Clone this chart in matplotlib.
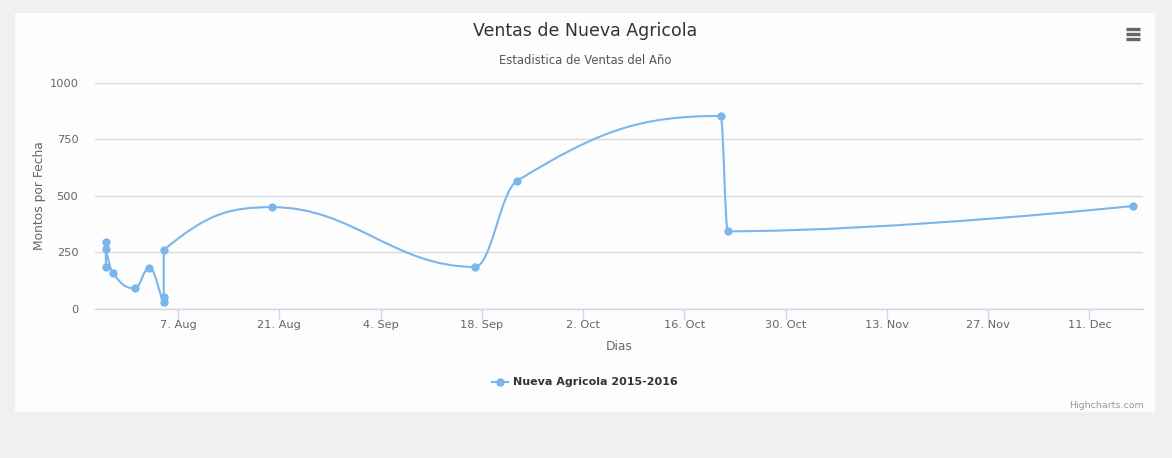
import pandas as pd
import matplotlib
matplotlib.use('Agg')
import matplotlib.pyplot as plt
import matplotlib.dates as mdates
from matplotlib.path import Path
from matplotlib.patches import PathPatch, Rectangle
from matplotlib.lines import Line2D

# Data (Highcharts spline, datetime axis)
fechas = ['2016-07-28 00:00', '2016-07-28 00:00', '2016-07-28 00:00', '2016-07-29 00:00',
          '2016-08-01 00:00', '2016-08-03 00:00', '2016-08-05 00:00', '2016-08-05 00:00',
          '2016-08-05 00:00', '2016-08-20 00:00', '2016-09-17 00:00', '2016-09-22 20:00',
          '2016-10-21 00:00', '2016-10-22 00:00', '2016-12-17 00:00']
montos = [183, 297, 264, 157, 90, 182, 28, 50, 260, 450, 185, 566, 854, 343, 455]

tick_fechas = ['2016-08-07', '2016-08-21', '2016-09-04', '2016-09-18', '2016-10-02',
               '2016-10-16', '2016-10-30', '2016-11-13', '2016-11-27', '2016-12-11']
tick_labels = ['7. Aug', '21. Aug', '4. Sep', '18. Sep', '2. Oct',
               '16. Oct', '30. Oct', '13. Nov', '27. Nov', '11. Dec']
y_ticks = [0, 250, 500, 750, 1000]

W, H = 1172, 458
LINE = '#7cb5ec'


def fx(px):
    return px / W


def fy(py):
    return 1 - py / H


def hc_spline(xs, ys, smoothing=1.5):
    # same control point rule as Highcharts' spline series
    n = len(xs)
    denom = smoothing + 1
    lc = [(x, y) for x, y in zip(xs, ys)]
    rc = [(x, y) for x, y in zip(xs, ys)]
    for i in range(1, n - 1):
        px, py = xs[i], ys[i]
        lx, ly = xs[i - 1], ys[i - 1]
        nx, ny = xs[i + 1], ys[i + 1]
        lcx = (smoothing * px + lx) / denom
        lcy = (smoothing * py + ly) / denom
        rcx = (smoothing * px + nx) / denom
        rcy = (smoothing * py + ny) / denom
        if rcx != lcx:
            corr = ((rcy - lcy) * (rcx - px)) / (rcx - lcx) + py - rcy
            lcy += corr
            rcy += corr
        if lcy > ly and lcy > py:
            lcy = max(ly, py)
            rcy = 2 * py - lcy
        elif lcy < ly and lcy < py:
            lcy = min(ly, py)
            rcy = 2 * py - lcy
        if rcy > ny and rcy > py:
            rcy = max(ny, py)
            lcy = 2 * py - rcy
        elif rcy < ny and rcy < py:
            rcy = min(ny, py)
            lcy = 2 * py - rcy
        lc[i] = (lcx, lcy)
        rc[i] = (rcx, rcy)
    verts = [(xs[0], ys[0])]
    codes = [Path.MOVETO]
    for i in range(1, n):
        verts += [rc[i - 1], lc[i], (xs[i], ys[i])]
        codes += [Path.CURVE4] * 3
    return Path(verts, codes)


x = list(mdates.date2num(pd.to_datetime(fechas, format='%Y-%m-%d %H:%M')))
xt = mdates.date2num(pd.to_datetime(tick_fechas, format='%Y-%m-%d'))

fig = plt.figure(figsize=(W / 100, H / 100), dpi=100)
fig.patch.set_facecolor('#f0f0f0')
fig.add_artist(Rectangle((fx(15), fy(412)), fx(1155) - fx(15), fy(13) - fy(412),
                         transform=fig.transFigure, facecolor='#fdfdfd', edgecolor='none', zorder=0))

ax = fig.add_axes([fx(95), fy(308.7), fx(1143) - fx(95), fy(83) - fy(308.7)])
ax.set_facecolor('none')

ax.add_patch(PathPatch(hc_spline(x, montos), facecolor='none', edgecolor=LINE,
                       linewidth=1.5, zorder=3, capstyle='round', joinstyle='round'))
ax.plot(x, montos, linestyle='none', marker='o', markersize=6, color=LINE,
        markeredgewidth=0, zorder=4)

x0 = mdates.date2num(pd.Timestamp('2016-08-07'))
ax.set_xlim(x0 - 11.5, x0 + 133.4)
ax.set_ylim(0, 1000)

ax.set_yticks(y_ticks)
ax.set_yticklabels([str(v) for v in y_ticks])
ax.set_xticks(xt)
ax.set_xticklabels(tick_labels)
ax.grid(axis='y', color='#dadada', linewidth=1)
ax.set_axisbelow(True)
for s in ['top', 'right', 'left']:
    ax.spines[s].set_visible(False)
ax.spines['bottom'].set_color('#ccd6eb')
ax.spines['bottom'].set_linewidth(1)
ax.tick_params(axis='y', length=0, pad=12, labelsize=8.2, labelcolor='#666666')
ax.tick_params(axis='x', length=7.2, width=1, color='#ccd6eb', pad=1,
               labelsize=8.2, labelcolor='#666666')

fig.text(fx(585), fy(31), 'Ventas de Nueva Agricola', ha='center', va='center',
         fontsize=12.5, color='#333333')
fig.text(fx(585), fy(61), 'Estadistica de Ventas del Año', ha='center', va='center',
         fontsize=8.4, color='#555555')
fig.text(fx(619), fy(347), 'Dias', ha='center', va='center', fontsize=8.8, color='#666666')
fig.text(fx(40), fy(196), 'Montos por Fecha', ha='center', va='center', rotation=90,
         fontsize=8.8, color='#666666')

# legend
fig.add_artist(Line2D([fx(492), fx(508)], [fy(382), fy(382)], transform=fig.transFigure,
                      color=LINE, linewidth=1.5))
fig.add_artist(Line2D([fx(500)], [fy(382)], transform=fig.transFigure, color=LINE,
                      marker='o', markersize=6, markeredgewidth=0))
fig.text(fx(513), fy(382), 'Nueva Agricola 2015-2016', ha='left', va='center',
         fontsize=8.0, fontweight='bold', color='#333333')

fig.text(fx(1144), fy(405), 'Highcharts.com', ha='right', va='center',
         fontsize=6.8, color='#999999')

# menu icon
for yy in [29, 34, 39]:
    fig.add_artist(Line2D([fx(1126), fx(1140)], [fy(yy), fy(yy)], transform=fig.transFigure,
                          color='#666666', linewidth=2.4, solid_capstyle='butt'))

fig.savefig('out.png', dpi=100, facecolor=fig.get_facecolor())
